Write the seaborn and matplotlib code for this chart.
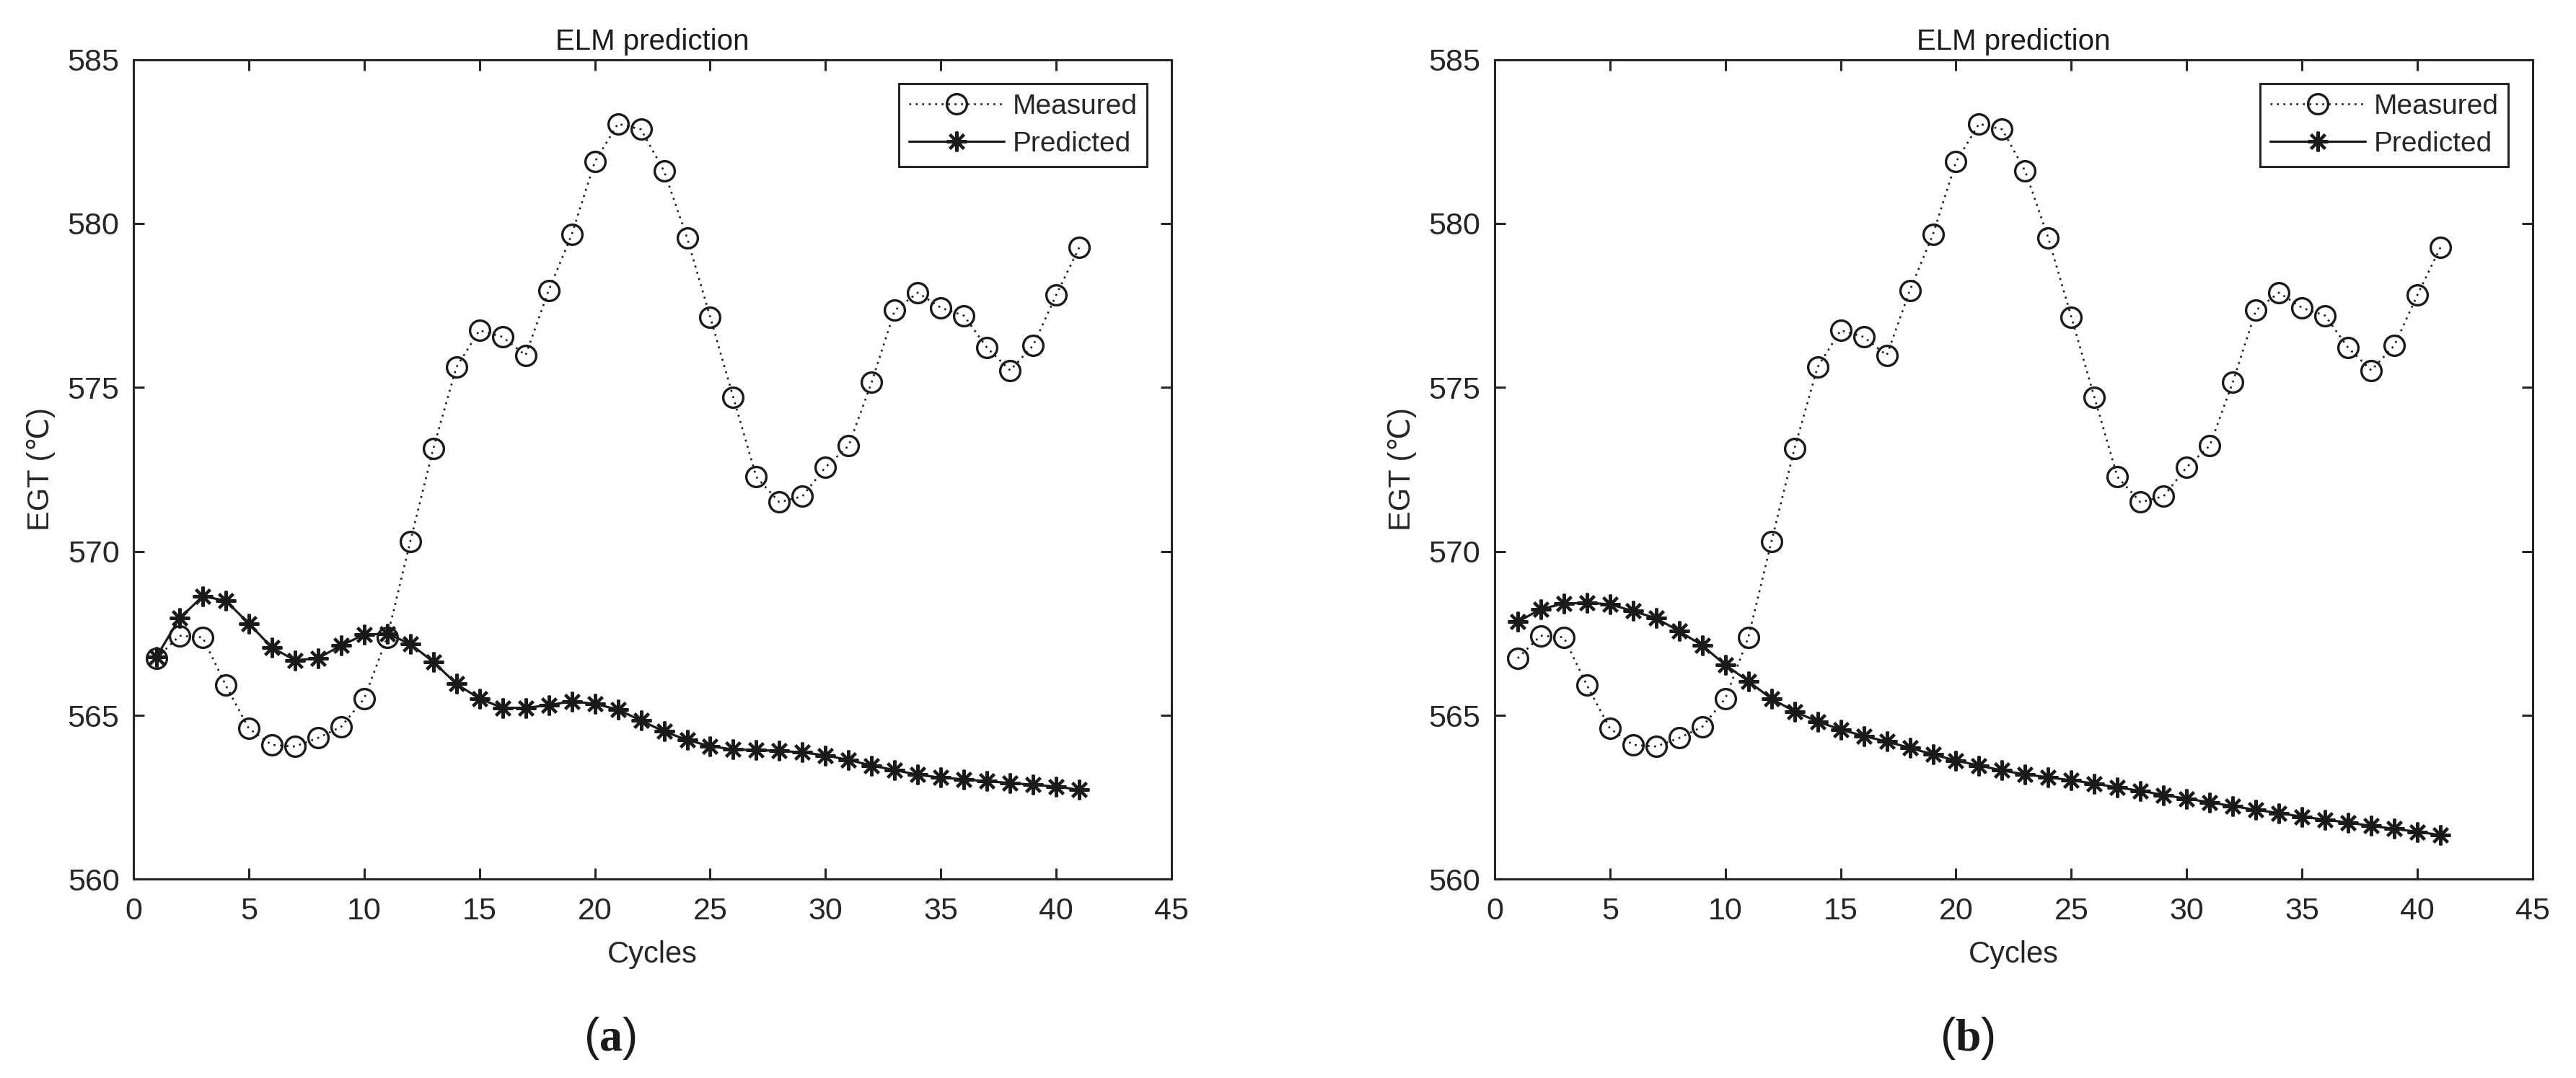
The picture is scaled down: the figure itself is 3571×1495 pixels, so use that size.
import numpy as np
import pandas as pd
import matplotlib
matplotlib.use('Agg')
import matplotlib.pyplot as plt
import seaborn as sns


# values
cycles = [1, 2, 3, 4, 5, 6, 7, 8, 9, 10, 11, 12, 13, 14, 15, 16, 17, 18, 19, 20, 21,
          22, 23, 24, 25, 26, 27, 28, 29, 30, 31, 32, 33, 34, 35, 36, 37, 38, 39, 40, 41]

measured = [566.74, 567.43, 567.38, 565.92, 564.60, 564.10, 564.05, 564.31, 564.65, 565.51,
            567.38, 570.30, 573.14, 575.62, 576.74, 576.54, 575.98, 577.96, 579.66, 581.88,
            583.04, 582.87, 581.60, 579.56, 577.15, 574.70, 572.27, 571.50, 571.68, 572.57,
            573.22, 575.16, 577.35, 577.89, 577.43, 577.19, 576.21, 575.52, 576.28, 577.82,
            579.27]

predicted_a = [566.79, 567.96, 568.63, 568.50, 567.80, 567.07, 566.68, 566.74, 567.13, 567.46,
               567.49, 567.18, 566.63, 565.96, 565.51, 565.23, 565.23, 565.31, 565.43, 565.35,
               565.18, 564.84, 564.51, 564.25, 564.06, 563.96, 563.94, 563.92, 563.87, 563.78,
               563.64, 563.47, 563.33, 563.19, 563.10, 563.05, 562.99, 562.94, 562.88, 562.83,
               562.73]

predicted_b = [567.85, 568.24, 568.41, 568.43, 568.39, 568.18, 567.96, 567.57, 567.13, 566.54,
               566.04, 565.51, 565.12, 564.81, 564.57, 564.37, 564.20, 564.01, 563.81, 563.62,
               563.47, 563.32, 563.20, 563.11, 563.02, 562.92, 562.80, 562.70, 562.57, 562.46,
               562.35, 562.23, 562.12, 562.02, 561.91, 561.82, 561.73, 561.63, 561.54, 561.45,
               561.35]

x_ticks = [0, 5, 10, 15, 20, 25, 30, 35, 40, 45]
y_ticks = [560, 565, 570, 575, 580, 585]
panel_labels = ['a', 'b']


sns.set_theme(style='white')
plt.rcParams['font.family'] = ['Liberation Sans', 'DejaVu Sans']
plt.rcParams['mathtext.fontset'] = 'custom'
plt.rcParams['mathtext.rm'] = 'Liberation Serif'
plt.rcParams['mathtext.bf'] = 'Liberation Serif:bold'

gray = '#262626'

fig = plt.figure(figsize=(35.71, 14.95), dpi=100)
ax_a = fig.add_axes([0.0518, 0.1843, 0.4030, 0.7605])
ax_b = fig.add_axes([0.5802, 0.1843, 0.4030, 0.7605])

for ax, pred, lab, xc in zip([ax_a, ax_b], [predicted_a, predicted_b], panel_labels, [0.2366, 0.7637]):
    # measured: dotted line with open circles
    sns.lineplot(x=cycles, y=measured, ax=ax, color='k', linestyle=(0, (1, 2.4)), linewidth=1.9,
                 marker='o', markersize=20, markerfacecolor='none', markeredgecolor='k',
                 markeredgewidth=2.4, label='Measured')
    # predicted: solid line with asterisks
    sns.lineplot(x=cycles, y=pred, ax=ax, color='k', linewidth=2.3,
                 marker=(8, 2, 0), markersize=20, markeredgecolor='k',
                 markeredgewidth=2.9, label='Predicted')

    ax.set_xlim(0, 45)
    ax.set_ylim(560, 585)
    ax.set_xticks(x_ticks)
    ax.set_yticks(y_ticks)

    ax.tick_params(direction='in', length=11, width=2.2, top=True, right=True,
                   bottom=True, left=True, labelsize=31, colors=gray)
    ax.tick_params(axis='x', pad=18)
    ax.tick_params(axis='y', pad=14)
    for s in ax.spines.values():
        s.set_visible(True)
        s.set_linewidth(2.2)
        s.set_color(gray)

    ax.set_title('ELM prediction', fontsize=29, color='k', pad=10)
    ax.set_xlabel('Cycles', fontsize=30, color=gray, labelpad=14)
    ax.set_ylabel('EGT (℃)', fontsize=30, color=gray, labelpad=12)

    leg = ax.legend(loc='upper right', fontsize=28, frameon=True, fancybox=False,
                    edgecolor=gray, framealpha=1, borderaxespad=0.87, handlelength=3.4,
                    handletextpad=0.3, labelspacing=0.4, borderpad=0.35, numpoints=1)
    leg.get_frame().set_linewidth(2.2)

    fig.text(xc, 0.037, r'($\mathbf{' + lab + '}$)', fontsize=46, ha='center', va='center',
             color='k')

fig.savefig('out.png', dpi=100, facecolor='white')
